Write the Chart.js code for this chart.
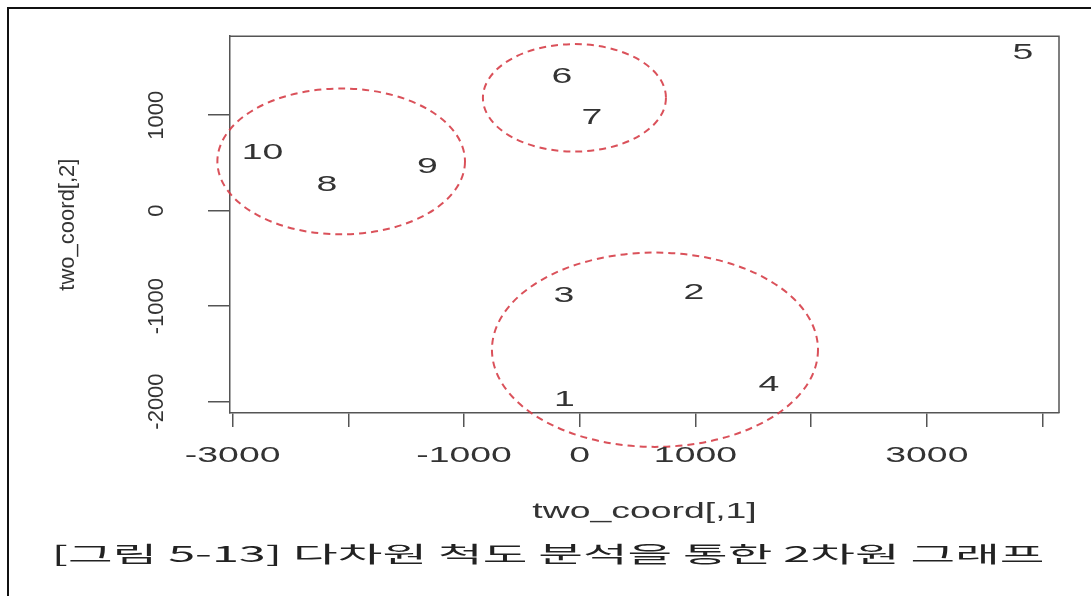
<!DOCTYPE html>
<html>
<head>
<meta charset="utf-8">
<script src="https://cdn.jsdelivr.net/npm/chart.js@4/dist/chart.umd.min.js"></script>
<style>
  html, body { margin: 0; padding: 0; background: #fff; }
  canvas { display: block; }
</style>
</head>
<body>
<canvas id="mds" width="1091" height="596" style="width:1091px;height:596px"></canvas>
<script>
// MDS coordinates of the 10 objects (two_coord[,1], two_coord[,2])
const pointLabels = ['1', '2', '3', '4', '5', '6', '7', '8', '9', '10'];
const coordX = [-132, 986, -137, 1635, 3831, -154, 105, -2185, -1316, -2742];
const coordY = [-1984, -865, -891, -1828, 1651, 1401, 974, 266, 453, 604];

// axis ticks (R drops the labels that would overlap)
const xTickValues = [-3000, -2000, -1000, 0, 1000, 2000, 3000, 4000];
const xTickLabels = ['-3000', '', '-1000', '0', '1000', '', '3000', ''];
const yTickValues = [-2000, -1000, 0, 1000];
const yTickLabels = ['-2000', '-1000', '0', '1000'];

// hand-drawn cluster rings, in data units
const groupCenterX = [-2062, -46, 650];
const groupCenterY = [516, 1182, -1457];
const groupRadiusX = [1070, 791, 1409];
const groupRadiusY = [764, 563, 1018];

const xTitle = 'two_coord[,1]';
const yTitle = 'two_coord[,2]';
const caption = '[그림 5-13] 다차원 척도 분석을 통한 2차원 그래프';

const SANS = '"Liberation Sans", Arial, sans-serif';
const WIDE = 1.7; // the figure was stretched sideways in the document

function wideText(ctx, text, x, y, k) {
  ctx.save();
  ctx.translate(x, y);
  ctx.scale(k, 1);
  ctx.fillText(text, 0, 0);
  ctx.restore();
}

const framePlugin = {
  id: 'frame',
  beforeDraw(chart) {
    const ctx = chart.ctx;
    ctx.save();
    ctx.strokeStyle = '#111';
    ctx.lineWidth = 2;
    ctx.beginPath();
    ctx.moveTo(8, 596);
    ctx.lineTo(8, 8);
    ctx.lineTo(1091, 8);
    ctx.stroke();
    ctx.restore();
  },
  afterDraw(chart) {
    const ctx = chart.ctx;
    const a = chart.chartArea;
    const xs = chart.scales.x;
    ctx.save();
    // top + right sides of the box
    ctx.strokeStyle = '#555';
    ctx.lineWidth = 1.5;
    ctx.beginPath();
    ctx.moveTo(a.left, a.top);
    ctx.lineTo(a.right, a.top);
    ctx.lineTo(a.right, a.bottom);
    ctx.stroke();

    // x tick labels + title
    ctx.fillStyle = '#333';
    ctx.font = '22px ' + SANS;
    ctx.textAlign = 'center';
    ctx.textBaseline = 'middle';
    xTickValues.forEach((v, i) => {
      if (xTickLabels[i]) wideText(ctx, xTickLabels[i], xs.getPixelForValue(v), 456, WIDE);
    });
    wideText(ctx, xTitle, (a.left + a.right) / 2, 512, WIDE);

    // caption under the figure
    ctx.font = '22px "Noto Sans CJK KR", sans-serif';
    ctx.fillStyle = '#222';
    const w = ctx.measureText(caption).width;
    wideText(ctx, caption, 548, 554, 993 / w);
    ctx.restore();
  }
};

const ringsPlugin = {
  id: 'rings',
  afterDatasetsDraw(chart) {
    const ctx = chart.ctx;
    const xs = chart.scales.x;
    const ys = chart.scales.y;
    ctx.save();
    ctx.strokeStyle = 'rgba(214, 62, 72, 0.9)';
    ctx.lineWidth = 2;
    ctx.setLineDash([7, 5]);
    groupCenterX.forEach((cx, i) => {
      const px = xs.getPixelForValue(cx);
      const py = ys.getPixelForValue(groupCenterY[i]);
      const rx = Math.abs(xs.getPixelForValue(cx + groupRadiusX[i]) - px);
      const ry = Math.abs(ys.getPixelForValue(groupCenterY[i] + groupRadiusY[i]) - py);
      ctx.beginPath();
      ctx.ellipse(px, py, rx, ry, 0, 0, Math.PI * 2);
      ctx.stroke();
    });
    ctx.restore();

    // text() labels at the point positions
    const meta = chart.getDatasetMeta(0);
    ctx.save();
    ctx.fillStyle = '#333';
    ctx.font = '22px ' + SANS;
    ctx.textAlign = 'center';
    ctx.textBaseline = 'middle';
    meta.data.forEach((pt, i) => wideText(ctx, pointLabels[i], pt.x, pt.y, WIDE));
    ctx.restore();
  }
};

new Chart(document.getElementById('mds'), {
  type: 'scatter',
  data: {
    datasets: [{
      data: coordX.map((x, i) => ({ x: x, y: coordY[i] })),
      pointRadius: 0,
      pointHoverRadius: 0
    }]
  },
  options: {
    responsive: false,
    devicePixelRatio: 1,
    animation: false,
    events: [],
    layout: { padding: { top: 34, right: 32, bottom: 0, left: 0 } },
    plugins: { legend: { display: false }, tooltip: { enabled: false } },
    scales: {
      x: {
        type: 'linear',
        min: -3023,
        max: 4142,
        afterBuildTicks: (s) => { s.ticks = xTickValues.map(v => ({ value: v })); },
        afterFit: (s) => { s.height = 183; },
        ticks: { display: false },
        grid: { drawOnChartArea: false, drawTicks: true, tickLength: 14, color: '#555', lineWidth: 1.5 },
        border: { display: true, color: '#555', width: 1.5 }
      },
      y: {
        type: 'linear',
        min: -2120,
        max: 1828,
        afterBuildTicks: (s) => { s.ticks = yTickValues.map(v => ({ value: v })); },
        afterFit: (s) => { s.width = 230; },
        ticks: {
          minRotation: 90,
          maxRotation: 90,
          crossAlign: 'center',
          padding: 23,
          color: '#333',
          font: { family: SANS, size: 22 },
          callback: (v) => yTickLabels[yTickValues.indexOf(v)]
        },
        grid: { drawOnChartArea: false, drawTicks: true, tickLength: 22, color: '#555', lineWidth: 1.5 },
        border: { display: true, color: '#555', width: 1.5 },
        title: {
          display: true,
          text: yTitle,
          color: '#333',
          font: { family: SANS, size: 22 },
          padding: { top: 55, bottom: 0 }
        }
      }
    }
  },
  plugins: [framePlugin, ringsPlugin]
});
</script>
</body>
</html>
